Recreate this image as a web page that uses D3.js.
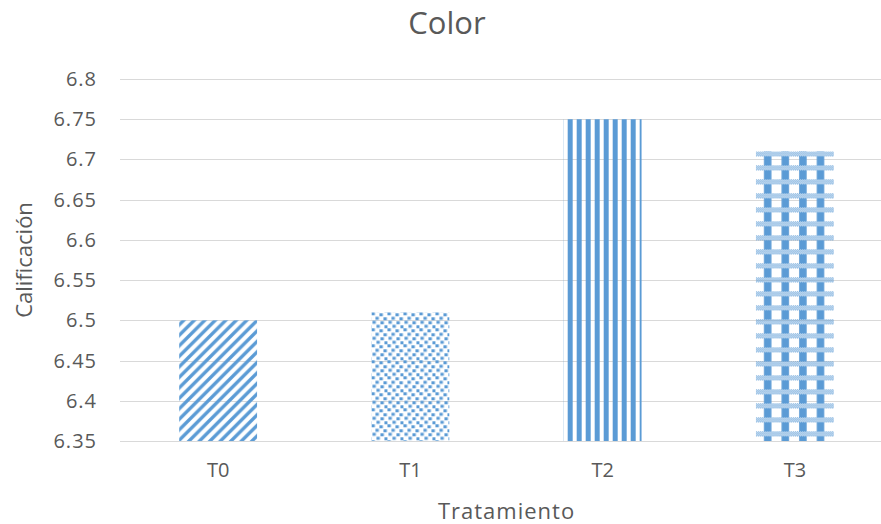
<!DOCTYPE html>
<html>
<head>
<meta charset="utf-8">
<script src="https://cdn.jsdelivr.net/npm/d3@7"></script>
<style>
  html, body { margin: 0; padding: 0; background: #fff; }
  svg { display: block; }
  text { font-family: "Open Sans", sans-serif; fill: #595959; }
</style>
</head>
<body>
<svg id="chart" width="881" height="524"></svg>
<script>
const categories = ["T0", "T1", "T2", "T3"];
const values = [6.50, 6.51, 6.75, 6.71];
const yTicks = [6.35, 6.4, 6.45, 6.5, 6.55, 6.6, 6.65, 6.7, 6.75, 6.8];
const patternIds = ["pDiag", "pConfetti", "pVert", "pPlaid"];

const BLUE = "#5B9BD5";
const svg = d3.select("#chart");
const W = 881, H = 524;
const plotL = 122, plotR = 891, plotT = 79, plotB = 441;

const x = d3.scaleBand().domain(categories).range([plotL, plotR])
  .paddingInner(0.595).paddingOuter(0.2975);
const y = d3.scaleLinear().domain([6.35, 6.8]).range([plotB, plotT]);

const defs = svg.append("defs");

// diagonal stripes
const pd = defs.append("pattern").attr("id", "pDiag").attr("patternUnits", "userSpaceOnUse")
  .attr("width", 10.5).attr("height", 10.5);
pd.append("path").attr("d", "M-3,3 L3,-3 M0,10.5 L10.5,0 M7.5,13.5 L13.5,7.5")
  .attr("stroke", BLUE).attr("stroke-width", 3.4).attr("fill", "none");

// confetti
const pc = defs.append("pattern").attr("id", "pConfetti").attr("patternUnits", "userSpaceOnUse")
  .attr("width", 16).attr("height", 16).attr("x", x("T1")).attr("y", y(values[1]));
[[0,0],[8,1],[4,4.5],[12,5],[1,8.5],[9,9],[5,12.5],[13,13]].forEach(([a,b]) => {
  pc.append("rect").attr("x", a).attr("y", b).attr("width", 3.4).attr("height", 3).attr("fill", BLUE);
});

// vertical stripes (white gap first)
const pv = defs.append("pattern").attr("id", "pVert").attr("patternUnits", "userSpaceOnUse")
  .attr("width", 9).attr("height", 10).attr("x", x("T2"));
pv.append("rect").attr("x", 4).attr("y", 0).attr("width", 5).attr("height", 10).attr("fill", BLUE);

// checker sub-pattern
const pk = defs.append("pattern").attr("id", "pCheck").attr("patternUnits", "userSpaceOnUse")
  .attr("width", 2).attr("height", 2);
pk.append("rect").attr("x", 0).attr("y", 0).attr("width", 1).attr("height", 1).attr("fill", BLUE);
pk.append("rect").attr("x", 1).attr("y", 1).attr("width", 1).attr("height", 1).attr("fill", BLUE);

// plaid
const pp = defs.append("pattern").attr("id", "pPlaid").attr("patternUnits", "userSpaceOnUse")
  .attr("width", 17.6).attr("height", 14).attr("x", x("T3")).attr("y", y(values[3]));
pp.append("rect").attr("x", 0).attr("y", 0).attr("width", 17.6).attr("height", 5).attr("fill", "url(#pCheck)");
pp.append("rect").attr("x", 8).attr("y", 5).attr("width", 7.5).attr("height", 9).attr("fill", BLUE);

// gridlines
svg.append("g").selectAll("line").data(yTicks).join("line")
  .attr("x1", 120).attr("x2", W)
  .attr("y1", d => Math.round(y(d)) + 0.5).attr("y2", d => Math.round(y(d)) + 0.5)
  .attr("stroke", "#D9D9D9").attr("stroke-width", 1);

// bars
svg.append("g").selectAll("rect").data(values).join("rect")
  .attr("x", (d, i) => x(categories[i]))
  .attr("y", d => y(d))
  .attr("width", x.bandwidth())
  .attr("height", d => y(6.35) - y(d))
  .attr("fill", (d, i) => `url(#${patternIds[i]})`);

// y tick labels
svg.append("g").selectAll("text").data(yTicks).join("text")
  .attr("x", 97).attr("y", d => y(d))
  .attr("dy", "0.35em").attr("text-anchor", "end")
  .style("font-size", "20px").style("letter-spacing", "1px")
  .text(d => d3.format("")(d));

// x labels
svg.append("g").selectAll("text").data(categories).join("text")
  .attr("x", d => x(d) + x.bandwidth() / 2).attr("y", 477)
  .attr("text-anchor", "middle").style("font-size", "20px")
  .text(d => d);

// title
svg.append("text").attr("x", 447).attr("y", 34).attr("text-anchor", "middle")
  .style("font-size", "31px").text("Color");

// axis titles
svg.append("text").attr("x", (plotL + plotR) / 2).attr("y", 519).attr("text-anchor", "middle")
  .style("font-size", "22px").style("letter-spacing", "1px").text("Tratamiento");
svg.append("text").attr("transform", `translate(32, ${(plotT + plotB) / 2}) rotate(-90)`)
  .attr("text-anchor", "middle").style("font-size", "22px").text("Calificación");
</script>
</body>
</html>
